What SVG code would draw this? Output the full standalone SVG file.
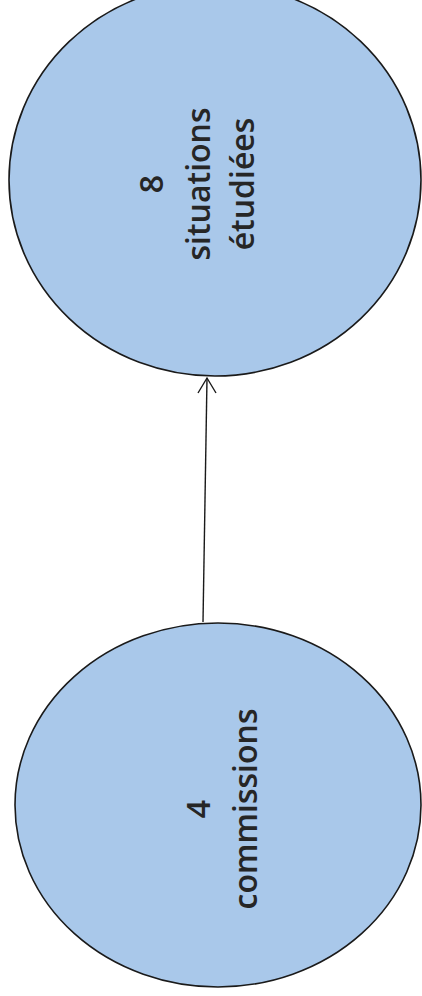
<svg xmlns="http://www.w3.org/2000/svg" width="422" height="996" viewBox="0 0 422 996">
<style>
.node{fill:#a9c8ea;stroke:#1a1a1a;stroke-width:1.6}
.lbl{font-family:"Open Sans",Lato,sans-serif;font-size:32px;font-weight:600;fill:#262626;text-anchor:middle}
.conn{stroke:#1a1a1a;stroke-width:1.4;fill:none}
</style>
<rect width="422" height="996" fill="#ffffff"/>
<g id="node-situations">
<ellipse class="node" cx="215" cy="180" rx="206" ry="196"/>
<text class="lbl" transform="rotate(-90)"><tspan x="-184" y="163">8</tspan><tspan x="-184" y="210">situations</tspan><tspan x="-184" y="254">étudiées</tspan></text>
</g>
<g id="node-commissions">
<ellipse class="node" cx="218" cy="805" rx="203" ry="182"/>
<text class="lbl" transform="rotate(-90)"><tspan x="-809" y="210">4</tspan><tspan x="-809" y="257">commissions</tspan></text>
</g>
<g id="connectors">
<line class="conn" x1="203" y1="622" x2="207" y2="378"/>
<polyline class="conn" points="198,393 207,378 216,393"/>
</g>
</svg>
